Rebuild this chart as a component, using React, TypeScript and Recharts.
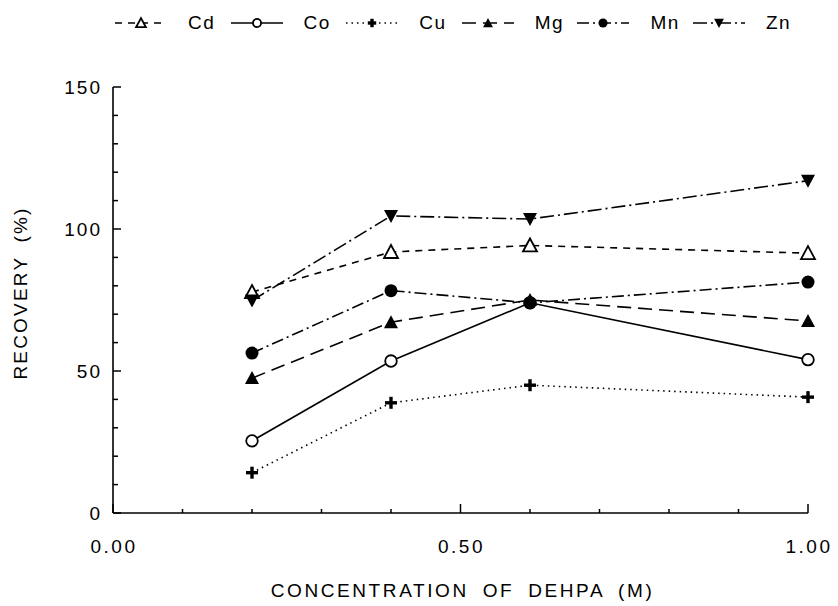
import { LineChart, Line, XAxis, YAxis, Label } from "recharts";

const CONC = [0.2, 0.4, 0.6, 1.0];
const CD = [77.8, 91.9, 94.2, 91.5];
const CO = [25.4, 53.5, 74, 54];
const CU = [14.2, 38.8, 45, 40.8];
const MG = [47.5, 67.2, 75, 67.6];
const MN = [56.3, 78.3, 74, 81.3];
const ZN = [74.8, 104.6, 103.5, 117];

const X_TICKS = [0, 0.1, 0.2, 0.3, 0.4, 0.5, 0.6, 0.7, 0.8, 0.9, 1.0];
const X_LABELS = [0, 0.5, 1.0];
const Y_TICKS = [0, 10, 20, 30, 40, 50, 60, 70, 80, 90, 100, 110, 120, 130, 140, 150];
const Y_LABELS = [0, 50, 100, 150];

const FONT = "'Liberation Sans', Arial, sans-serif";

type Shape = "triOpen" | "circleOpen" | "plus" | "triFill" | "circleFill" | "triDown";

const SERIES: { key: string; values: number[]; dash?: string; shape: Shape }[] = [
  { key: "Cd", values: CD, dash: "7 6", shape: "triOpen" },
  { key: "Co", values: CO, shape: "circleOpen" },
  { key: "Cu", values: CU, dash: "1.5 4", shape: "plus" },
  { key: "Mg", values: MG, dash: "14 7", shape: "triFill" },
  { key: "Mn", values: MN, dash: "12 4 2 4", shape: "circleFill" },
  { key: "Zn", values: ZN, dash: "14 4 2 4", shape: "triDown" },
];

const data = CONC.map((x, i) => {
  const row: Record<string, number> = { x };
  SERIES.forEach((s) => (row[s.key] = s.values[i]));
  return row;
});

function Marker({ shape, cx, cy, k = 1 }: { shape: Shape; cx: number; cy: number; k?: number }) {
  const h = 7 * k;
  const b = 6 * k;
  switch (shape) {
    case "triOpen":
      return (
        <path
          d={`M${cx},${cy - h} L${cx + h},${cy + b} L${cx - h},${cy + b} Z`}
          fill="#fff"
          stroke="#000"
          strokeWidth={1.8}
        />
      );
    case "triFill":
      return <path d={`M${cx},${cy - h} L${cx + h},${cy + b} L${cx - h},${cy + b} Z`} fill="#000" />;
    case "triDown":
      return <path d={`M${cx},${cy + h} L${cx + h},${cy - b} L${cx - h},${cy - b} Z`} fill="#000" />;
    case "circleOpen":
      return <circle cx={cx} cy={cy} r={5.8 * k} fill="#fff" stroke="#000" strokeWidth={1.8} />;
    case "circleFill":
      return <circle cx={cx} cy={cy} r={6.5 * k} fill="#000" />;
    case "plus":
      return (
        <g stroke="#000" strokeWidth={3.4}>
          <line x1={cx - b} y1={cy} x2={cx + b} y2={cy} />
          <line x1={cx} y1={cy - b} x2={cx} y2={cy + b} />
        </g>
      );
  }
}

function XTick(props: any) {
  const { x, y, payload } = props;
  const major = X_LABELS.includes(payload.value);
  return (
    <g>
      <line x1={x} y1={y} x2={x} y2={y - (major ? 9 : 4)} stroke="#000" strokeWidth={1.5} />
      {major && (
        <text
          x={x + 1}
          y={y + 40}
          textAnchor="middle"
          fontSize={19}
          letterSpacing={2.5}
          fontFamily={FONT}
          fill="#000"
        >
          {payload.value.toFixed(2)}
        </text>
      )}
    </g>
  );
}

function YTick(props: any) {
  const { x, y, payload } = props;
  const major = Y_LABELS.includes(payload.value);
  return (
    <g>
      <line x1={x} y1={y} x2={x + (major ? 8 : 5)} y2={y} stroke="#000" strokeWidth={1.5} />
      {major && (
        <text
          x={x - 11}
          y={y}
          dy="0.36em"
          textAnchor="end"
          fontSize={19}
          letterSpacing={2}
          fontFamily={FONT}
          fill="#000"
        >
          {payload.value}
        </text>
      )}
    </g>
  );
}

function YTitle({ viewBox }: any) {
  const cx = viewBox.x + viewBox.width - 93;
  const cy = viewBox.y + viewBox.height / 2 - 7;
  return (
    <text
      x={cx}
      y={cy}
      transform={`rotate(-90 ${cx} ${cy})`}
      textAnchor="middle"
      dy="0.36em"
      fontSize={19}
      letterSpacing={2.2}
      wordSpacing={6}
      fontFamily={FONT}
      fill="#000"
    >
      RECOVERY (%)
    </text>
  );
}

function XTitle({ viewBox }: any) {
  return (
    <text
      x={viewBox.x + viewBox.width / 2 + 2}
      y={viewBox.y + 84}
      textAnchor="middle"
      fontSize={19}
      letterSpacing={2.6}
      wordSpacing={6}
      fontFamily={FONT}
      fill="#000"
    >
      CONCENTRATION OF DEHPA (M)
    </text>
  );
}

function Legend() {
  return (
    <div
      style={{
        position: "absolute",
        top: 12,
        left: 113,
        display: "flex",
        fontFamily: FONT,
        fontSize: 19,
        letterSpacing: 1.5,
        alignItems: "center",
      }}
    >
      {SERIES.map((s) => (
        <div key={s.key} style={{ display: "flex", alignItems: "center", width: 115.6 }}>
          <svg width={56} height={20} style={{ marginRight: 19 }}>
            <line x1={2} y1={10} x2={54} y2={10} stroke="#000" strokeWidth={1.6} strokeDasharray={s.dash} />
            <Marker shape={s.shape} cx={28} cy={10} k={0.7} />
          </svg>
          <span>{s.key}</span>
        </div>
      ))}
    </div>
  );
}

export default function App() {
  return (
    <div style={{ position: "absolute", left: 0, top: 0, width: 838, height: 606, background: "#fff" }}>
      <LineChart width={838} height={606} data={data} margin={{ top: 87, right: 30, bottom: 33, left: 13 }}>
        <XAxis
          type="number"
          dataKey="x"
          domain={[0, 1]}
          ticks={X_TICKS}
          interval={0}
          height={60}
          tickSize={0}
          tickMargin={0}
          tickLine={false}
          tick={<XTick />}
          axisLine={{ stroke: "#000", strokeWidth: 1.6 }}
        >
          <Label content={<XTitle />} />
        </XAxis>
        <YAxis
          type="number"
          domain={[0, 150]}
          ticks={Y_TICKS}
          interval={0}
          width={100}
          tickSize={0}
          tickMargin={0}
          tickLine={false}
          tick={<YTick />}
          axisLine={{ stroke: "#000", strokeWidth: 1.6 }}
        >
          <Label content={<YTitle />} />
        </YAxis>
        {SERIES.map((s) => (
          <Line
            key={s.key}
            dataKey={s.key}
            type="linear"
            stroke="#000"
            strokeWidth={1.6}
            strokeDasharray={s.dash}
            isAnimationActive={false}
            dot={(p: any) => <Marker key={`${s.key}-${p.index}`} shape={s.shape} cx={p.cx} cy={p.cy} />}
          />
        ))}
      </LineChart>
      <Legend />
    </div>
  );
}
